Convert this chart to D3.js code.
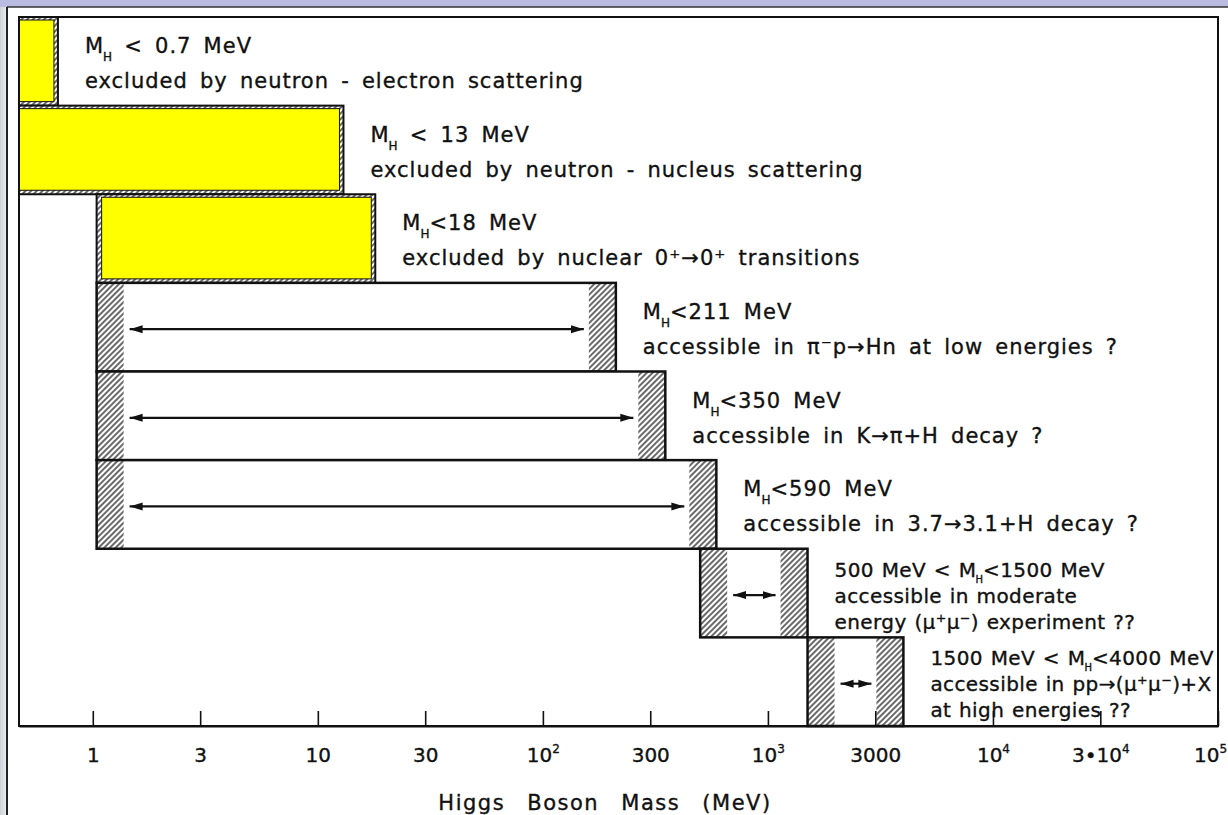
<!DOCTYPE html>
<html>
<head>
<meta charset="utf-8">
<script src="https://cdn.jsdelivr.net/npm/d3@7"></script>
<style>
  html, body { margin: 0; padding: 0; background: #ffffff; }
  svg { display: block; }
</style>
</head>
<body>
<script>
// ---------------- DATA ----------------
const rowIds   = ["ne", "nn", "nuc", "pi", "K", "psi", "mod", "high"];
const lowerMeV = [null, null, 1.04, 1.04, 1.04, 1.04, 500, 1500];   // null = below axis range
const upperMeV = [0.7, 13, 18, 211, 350, 590, 1500, 4000];
const rowStatus = ["excluded", "excluded", "excluded", "accessible", "accessible", "accessible", "accessible", "accessible"];
const rowLabels = [
  ["M_H < 0.7 MeV", "excluded by neutron - electron scattering"],
  ["M_H < 13 MeV", "excluded by neutron - nucleus scattering"],
  ["M_H<18 MeV", "excluded by nuclear 0⁺→0⁺ transitions"],
  ["M_H<211 MeV", "accessible in π⁻p→Hn at low energies ?"],
  ["M_H<350 MeV", "accessible in K→π+H decay ?"],
  ["M_H<590 MeV", "accessible in 3.7→3.1+H decay ?"],
  ["500 MeV < M_H<1500 MeV", "accessible in moderate", "energy (μ⁺μ⁻) experiment ??"],
  ["1500 MeV < M_H<4000 MeV", "accessible in pp→(μ⁺μ⁻)+X", "at high energies ??"]
];
const tickValues = [1, 3, 10, 30, 100, 300, 1000, 3000, 1e4, 3e4, 1e5];
const tickLabels = ["1", "3", "10", "30", "10^2", "300", "10^3", "3000", "10^4", "3•10^4", "10^5"];
const axisTitle = "Higgs Boson Mass (MeV)";

(function () {
// ---------------- LAYOUT ----------------
const W = 1228, H = 815;
const pL = 19, pR = 1218, pT = 17, pB = 726;
const FONT = "'DejaVu Sans', sans-serif";
const INK = "#111";
const hatchW = 27;

const svg = d3.select("body").append("svg").attr("width", W).attr("height", H);

const defs = svg.append("defs");
const pat = defs.append("pattern").attr("id", "hatch")
  .attr("patternUnits", "userSpaceOnUse").attr("width", 4).attr("height", 4)
  .attr("patternTransform", "rotate(45)");
pat.append("rect").attr("width", 4).attr("height", 4).attr("fill", "#fff");
pat.append("line").attr("x1", 1).attr("y1", 0).attr("x2", 1).attr("y2", 4)
  .attr("stroke", "#2a2a2a").attr("stroke-width", 1.4);
const grad = defs.append("linearGradient").attr("id", "leftgrad").attr("x1", 0).attr("x2", 1);
grad.append("stop").attr("offset", "0%").attr("stop-color", "#cfd0d8");
grad.append("stop").attr("offset", "100%").attr("stop-color", "#eeeeee");
const marker = defs.append("marker").attr("id", "ah")
  .attr("markerUnits", "userSpaceOnUse").attr("markerWidth", 14).attr("markerHeight", 10)
  .attr("refX", 13).attr("refY", 5).attr("orient", "auto-start-reverse");
marker.append("path").attr("d", "M0,1 L13,5 L0,9 Z").attr("fill", INK);

// page decoration (slide background around the scanned figure)
svg.append("rect").attr("width", W).attr("height", H).attr("fill", "#fff");
svg.append("rect").attr("x", 0).attr("y", 0).attr("width", W).attr("height", 7).attr("fill", "#b9bce0");
svg.append("rect").attr("x", 0).attr("y", 7).attr("width", 7).attr("height", H - 7).attr("fill", "url(#leftgrad)");
svg.append("line").attr("x1", 7).attr("y1", 7).attr("x2", W).attr("y2", 7).attr("stroke", "#333").attr("stroke-width", 1.5);
svg.append("line").attr("x1", 7).attr("y1", 7).attr("x2", 7).attr("y2", H).attr("stroke", "#222").attr("stroke-width", 2);

// scales
const x = d3.scaleLog().domain([0.47, 1e5]).range([pL, pR]);
const y = d3.scaleBand().domain(rowIds).range([pT, pB]).paddingInner(0).paddingOuter(0);

// frame
svg.append("rect").attr("x", pL).attr("y", pT).attr("width", pR - pL).attr("height", pB - pT)
  .attr("fill", "none").attr("stroke", INK).attr("stroke-width", 2);

const rows = rowIds.map((id, i) => ({
  id, lo: lowerMeV[i], hi: upperMeV[i], status: rowStatus[i], lines: rowLabels[i]
}));
const bx0 = d => d.lo == null ? pL : x(d.lo);
const bx1 = d => x(d.hi);

const g = svg.append("g");

// boxes
rows.forEach(d => {
  const x0 = bx0(d), x1 = bx1(d), y0 = y(d.id), h = y.bandwidth();
  if (d.status === "excluded") {
    g.append("rect").attr("x", x0).attr("y", y0).attr("width", x1 - x0).attr("height", h)
      .attr("fill", "url(#hatch)");
    const yx0 = d.lo == null ? x0 : x0 + 5;
    g.append("rect").attr("x", yx0).attr("y", y0 + 3).attr("width", (x1 - 4) - yx0).attr("height", h - 7)
      .attr("fill", "#ffff00").attr("stroke", INK).attr("stroke-width", 1);
    g.append("rect").attr("x", x0).attr("y", y0).attr("width", x1 - x0).attr("height", h)
      .attr("fill", "none").attr("stroke", INK).attr("stroke-width", 2);
  } else {
    g.append("rect").attr("x", x0).attr("y", y0).attr("width", x1 - x0).attr("height", h)
      .attr("fill", "#fff");
    g.append("rect").attr("x", x0).attr("y", y0).attr("width", hatchW).attr("height", h)
      .attr("fill", "url(#hatch)");
    g.append("rect").attr("x", x1 - hatchW).attr("y", y0).attr("width", hatchW).attr("height", h)
      .attr("fill", "url(#hatch)");
    g.append("rect").attr("x", x0).attr("y", y0).attr("width", x1 - x0).attr("height", h)
      .attr("fill", "none").attr("stroke", INK).attr("stroke-width", 2.5);
    // double arrow
    const ay = y0 + h / 2 + 2;
    g.append("line").attr("x1", x0 + hatchW + 6).attr("x2", x1 - hatchW - 5)
      .attr("y1", ay).attr("y2", ay).attr("stroke", INK).attr("stroke-width", 2.2)
      .attr("marker-start", "url(#ah)").attr("marker-end", "url(#ah)");
  }
});

// rich text helper: "_H" -> subscript H
function rich(textSel, str, subSize, subDy) {
  const parts = str.split("_H");
  let pending = 0;
  parts.forEach((p, i) => {
    if (p.length) {
      textSel.append("tspan").attr("dy", pending).text(p);
      pending = 0;
    }
    if (i < parts.length - 1) {
      textSel.append("tspan").attr("dy", subDy + pending).attr("dx", -1)
        .attr("font-size", subSize).attr("letter-spacing", 0).text("H");
      pending = -subDy;
    }
  });
}

// labels
rows.forEach(d => {
  const three = d.lines.length === 3;
  const size = three ? 20 : 21;
  const tx = bx1(d) + 27;
  const y0 = y(d.id);
  d.lines.forEach((line, j) => {
    const by = three ? y0 + 28 + j * 26 : y0 + 36 + j * 35;
    const t = svg.append("text").attr("x", tx).attr("y", by)
      .attr("font-family", FONT).attr("font-size", size).attr("fill", INK)
      .attr("stroke", INK).attr("stroke-width", 0.35)
      .attr("letter-spacing", three ? 0.4 : 1)
      .attr("word-spacing", three ? 1 : 4.5);
    rich(t, line, three ? 10 : 12, three ? 6 : 8);
  });
});

// axis
const axis = d3.axisBottom(x).tickValues(tickValues).tickSize(-15).tickSizeOuter(0).tickPadding(22)
  .tickFormat((d, i) => tickLabels[i]);
const ag = svg.append("g").attr("transform", `translate(0,${pB})`).call(axis);
ag.select(".domain").attr("stroke", INK).attr("stroke-width", 2);
ag.selectAll(".tick line").attr("stroke", INK).attr("stroke-width", 1.6);
ag.selectAll(".tick text").attr("font-family", FONT).attr("font-size", 20).attr("fill", INK)
  .attr("stroke", INK).attr("stroke-width", 0.35)
  .each(function (d) {
    const sel = d3.select(this);
    const s = sel.text();
    if (d >= 1e5) sel.attr("dx", -8);
    if (s.includes("^")) {
      const [base, sup] = s.split("^");
      sel.text(null);
      sel.append("tspan").text(base);
      sel.append("tspan").attr("dy", -9).attr("font-size", 12).text(sup);
    }
  });

// axis title
svg.append("text").attr("x", 605).attr("y", 810).attr("text-anchor", "middle")
  .attr("font-family", FONT).attr("font-size", 21).attr("fill", INK)
  .attr("stroke", INK).attr("stroke-width", 0.35)
  .attr("letter-spacing", 1.5).attr("word-spacing", 14)
  .text(axisTitle);
})();
</script>
</body>
</html>
